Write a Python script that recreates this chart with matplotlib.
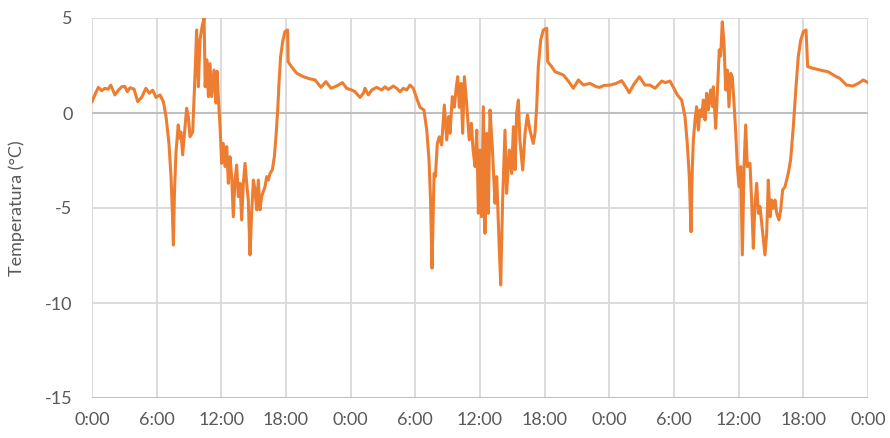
import matplotlib
matplotlib.use("Agg")
import matplotlib.pyplot as plt

plt.rcParams['font.family'] = ['Lato', 'DejaVu Sans']

hours = [
    0.0, 0.3, 0.59, 0.9, 1.2, 1.5, 1.74, 2.13, 2.45, 2.75, 3.05, 3.28, 3.53, 3.9, 4.24, 4.6, 5.0, 5.32, 5.63, 5.94,
    6.31, 6.62, 6.87, 7.14, 7.33, 7.45, 7.55, 7.65, 7.79, 8.0, 8.13, 8.25, 8.41, 8.54, 8.78, 8.94, 9.09, 9.34, 9.55, 9.71,
    9.87, 10.02, 10.24, 10.4, 10.5, 10.65, 10.8, 10.95, 11.1, 11.32, 11.5, 11.6, 11.72, 11.88, 12.03, 12.18, 12.34, 12.5, 12.65, 12.8,
    12.96, 13.11, 13.27, 13.42, 13.58, 13.73, 13.89, 14.04, 14.2, 14.35, 14.5, 14.66, 14.8, 14.97, 15.12, 15.28, 15.43, 15.59, 15.74, 15.9,
    16.05, 16.21, 16.36, 16.52, 16.73, 16.92, 17.07, 17.23, 17.35, 17.5, 17.69, 17.9, 18.15, 18.2, 18.5, 19.0, 19.6, 20.2, 20.7, 21.25,
    21.7, 22.18, 22.7, 23.23, 23.63, 24.1,
    24.4, 24.87, 25.18, 25.33, 25.64, 25.95, 26.41, 26.87, 27.18, 27.49, 27.96, 28.27, 28.58, 28.89, 29.2, 29.5, 29.81, 30.13, 30.43, 30.8,
    31.06, 31.27, 31.42, 31.55, 31.67, 31.74, 31.86, 32.04, 32.22, 32.44, 32.69, 32.91, 33.1, 33.22, 33.43, 33.62, 33.77, 33.93, 34.08, 34.24,
    34.39, 34.55, 34.76, 35.0, 35.2, 35.35, 35.54, 35.7, 35.85, 36.0, 36.15, 36.31, 36.46, 36.62, 36.77, 36.93, 37.14, 37.39, 37.55, 37.76,
    37.92, 38.1, 38.32, 38.47, 38.72, 38.94, 39.1, 39.25, 39.4, 39.56, 39.7, 39.96, 40.18, 40.4, 40.63, 40.94, 41.1, 41.26, 41.41, 41.63,
    41.88, 42.19, 42.28, 42.65, 42.96, 43.3, 43.73, 44.0, 44.3, 44.66, 45.13, 45.6, 46.2, 46.8, 47.1, 47.5, 48.06, 48.6, 49.15, 49.5,
    49.85, 50.23, 50.79, 51.3, 51.77, 52.24, 52.86, 53.2, 53.63, 53.94, 54.31, 54.71, 55.02, 55.23, 55.42, 55.58, 55.7, 55.8, 55.95, 56.1,
    56.26, 56.41, 56.57, 56.72, 56.88, 57.03, 57.19, 57.4, 57.58, 57.65, 57.87, 58.04, 58.2, 58.33, 58.48, 58.64, 58.8, 58.95, 59.1, 59.26,
    59.41, 59.57, 59.73, 59.88, 60.03, 60.19, 60.34, 60.5, 60.65, 60.8, 61.05, 61.2, 61.36, 61.5, 61.67, 61.83, 61.98, 62.23, 62.44, 62.6,
    62.75, 62.91, 63.06, 63.22, 63.37, 63.53, 63.74, 63.9, 64.08, 64.3, 64.6, 64.82, 65.07, 65.32, 65.53, 65.76, 66.0, 66.25, 66.4, 66.93,
    67.55, 68.3, 68.94, 69.4, 70.0, 70.6, 71.1, 71.56, 72.0,
]

temperature = [
    0.6, 1.0, 1.35, 1.17, 1.3, 1.25, 1.47, 0.95, 1.2, 1.38, 1.4, 1.12, 1.33, 1.26, 0.6, 0.82, 1.3, 1.04, 1.2, 0.82,
    0.95, 0.6, -0.19, -1.6, -3.35, -5.1, -6.95, -4.2, -2.1, -0.63, -1.33, -1.0, -2.2, -1.33, 0.25, -0.2, -1.25, -1.0, 1.9, 4.37,
    1.38, 3.84, 4.63, 5.0, 1.38, 2.8, 0.86, 2.6, 0.86, 2.26, 0.52, 2.2, 0.86, -0.72, -2.65, -1.6, -2.82, -1.77, -3.7, -2.3,
    -3.35, -5.46, -3.53, -2.74, -4.4, -3.7, -5.63, -3.7, -2.65, -3.7, -4.58, -7.47, -5.46, -3.53, -4.0, -5.1, -3.53, -5.1, -4.4, -4.14,
    -3.88, -3.35, -3.53, -3.18, -3.0, -2.3, -1.25, 0.16, 1.56, 2.96, 3.75, 4.28, 4.37, 2.7, 2.44, 2.09, 1.91, 1.8, 1.74, 1.35,
    1.65, 1.3, 1.42, 1.6, 1.3, 1.21,
    1.12, 0.82, 1.04, 1.3, 0.95, 1.21, 1.35, 1.21, 1.38, 1.24, 1.42, 1.3, 1.12, 1.3, 1.21, 1.47, 1.3, 0.77, 0.3, 0.16,
    -0.9, -2.47, -4.75, -8.17, -5.1, -3.18, -3.35, -1.6, -1.25, -1.68, 0.42, -1.42, -0.19, -1.07, 0.86, 0.3, 1.21, 1.91, 0.3, 1.56,
    -1.07, 1.91, 0.51, -1.42, -0.54, -1.9, -2.82, -0.9, -5.28, -1.95, -5.46, 0.33, -6.33, -1.07, -5.28, 0.16, -1.77, -4.75, -3.35, -6.68,
    -9.05, -4.58, -0.9, -4.23, -1.95, -3.18, -0.72, -2.98, -0.02, 0.68, -1.42, -3.0, -1.07, -0.1, -0.9, -1.6, -1.07, 0.33, 2.44, 3.84,
    4.37, 4.46, 2.7, 2.44, 2.17, 2.1, 2.0, 1.82, 1.6, 1.3, 1.74, 1.47, 1.56, 1.38, 1.35, 1.45, 1.47, 1.55, 1.7, 1.4,
    1.07, 1.47, 1.91, 1.47, 1.47, 1.3, 1.68, 1.6, 1.68, 1.35, 0.95, 0.68, -0.19, -1.6, -3.35, -6.25, -2.82, -1.42, -0.37, 0.33,
    -0.9, 0.16, -0.19, 0.68, -0.37, 1.04, 0.16, 1.21, 0.33, 1.38, -0.81, 1.38, 3.32, 3.0, 4.8, 3.67, 1.21, 2.26, 0.33, 2.09,
    1.9, 0.51, -1.07, -2.82, -3.88, -2.82, -7.47, -2.82, -0.63, -2.82, -2.65, -4.58, -7.12, -4.93, -3.7, -5.28, -4.93, -6.33, -7.47, -6.33,
    -3.53, -5.46, -4.58, -5.02, -4.58, -5.28, -5.63, -5.1, -4.05, -3.88, -3.18, -2.47, -0.72, 1.38, 2.96, 3.84, 4.28, 4.37, 2.44, 2.35,
    2.26, 2.17, 1.95, 1.82, 1.47, 1.42, 1.56, 1.74, 1.6,
]

x_ticks = [0, 6, 12, 18, 24, 30, 36, 42, 48, 54, 60, 66, 72]
x_tick_labels = ["0:00", "6:00", "12:00", "18:00", "0:00", "6:00", "12:00", "18:00",
                 "0:00", "6:00", "12:00", "18:00", "0:00"]
y_ticks = [-15, -10, -5, 0, 5]
y_tick_labels = ["-15", "-10", "-5", "0", "5"]
y_label = "Temperatura (°C)"

fig = plt.figure(figsize=(8.9, 4.38), dpi=100)
ax = fig.add_axes([92/890, 1 - 398/438, 776/890, 380/438])

grid_c = "#d9d9d9"
for xv in x_ticks:
    ax.axvline(xv, color=grid_c, lw=1.3, zorder=1)
for yv in y_ticks:
    ax.axhline(yv, color=grid_c, lw=1.3, zorder=1)
ax.axhline(0, color="#bfbfbf", lw=1.5, zorder=1)
ax.axhline(-15, color="#bfbfbf", lw=1.5, zorder=1)

ax.plot(hours, temperature, color="#ED7D31", lw=2.2, zorder=3)

ax.set_xlim(0, 72)
ax.set_ylim(-15, 5)
ax.set_xticks(x_ticks)
ax.set_xticklabels(x_tick_labels)
ax.set_yticks(y_ticks)
ax.set_yticklabels(y_tick_labels)
for s in ax.spines.values():
    s.set_visible(False)
ax.tick_params(axis="both", length=0, labelsize=13, colors="#595959")
ax.tick_params(axis="y", pad=14)
ax.tick_params(axis="x", pad=10)
ax.set_ylabel(y_label, fontsize=13, color="#595959", labelpad=14)

fig.savefig("out.png", dpi=100)
